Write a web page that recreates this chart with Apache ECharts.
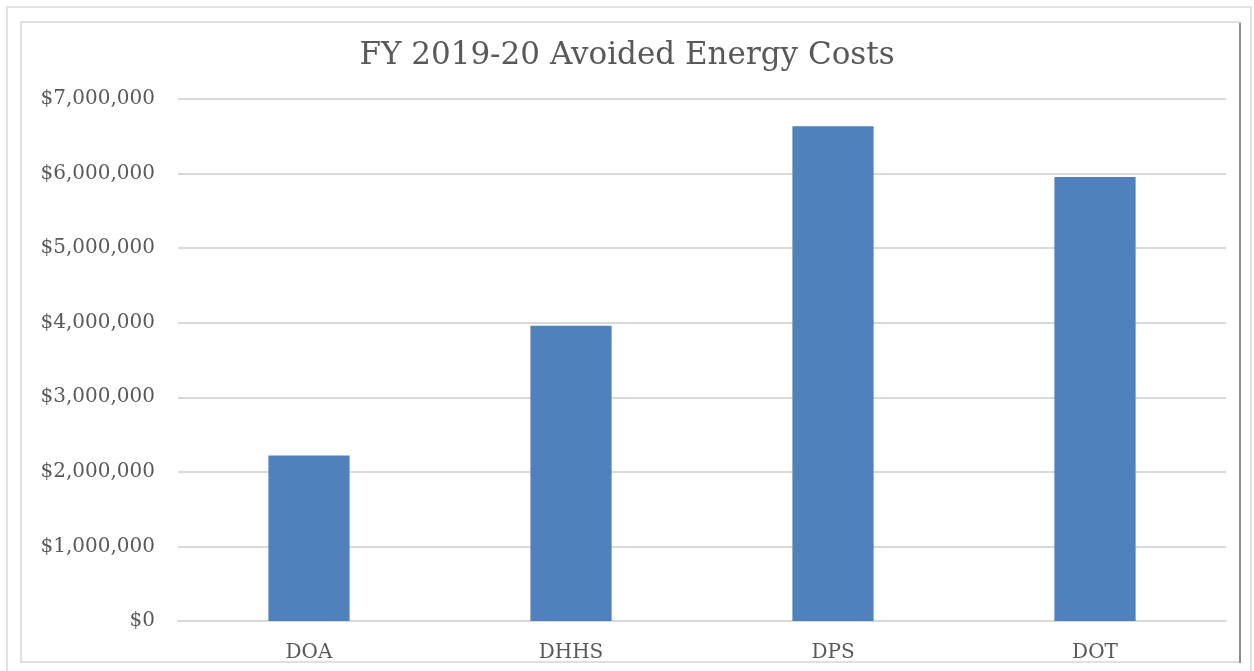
<!DOCTYPE html>
<html>
<head>
<meta charset="utf-8">
<script src="https://cdn.jsdelivr.net/npm/echarts@6/dist/echarts.min.js"></script>
<style>
html,body{margin:0;padding:0;background:#fff;}
#chart{width:1254px;height:671px;}
</style>
</head>
<body>
<div id="chart"></div>
<script>
const titleText = 'FY 2019-20 Avoided Energy Costs';
const categories = ['DOA', 'DHHS', 'DPS', 'DOT'];
const values = [2220000, 3960000, 6635000, 5955000];
const yMin = 0, yMax = 7000000, yStep = 1000000;

const FONT = '"DejaVu Serif", serif';
const chart = echarts.init(document.getElementById('chart'), null, {renderer: 'canvas'});
chart.setOption({
  backgroundColor: '#ffffff',
  animation: false,
  title: {
    text: titleText,
    left: 'center',
    top: 35,
    textStyle: {fontFamily: FONT, fontSize: 31, fontWeight: 'normal', color: '#595959'}
  },
  grid: {left: 178, right: 28, top: 99, bottom: 50, containLabel: false},
  xAxis: {
    type: 'category',
    data: categories,
    axisLine: {show: true, lineStyle: {color: '#d9d9d9', width: 2}},
    axisTick: {show: false},
    axisLabel: {fontFamily: FONT, fontSize: 20, color: '#595959', margin: 22}
  },
  yAxis: {
    type: 'value',
    min: yMin, max: yMax, interval: yStep,
    axisLine: {show: false},
    axisTick: {show: false},
    splitLine: {lineStyle: {color: '#d9d9d9', width: 2}},
    axisLabel: {
      fontFamily: FONT, fontSize: 20, color: '#595959', margin: 23,
      padding: [4, 0, 0, 0],
      formatter: v => '$' + v.toLocaleString('en-US')
    }
  },
  series: [{
    type: 'bar',
    data: values,
    barWidth: '31%',
    itemStyle: {color: '#4f81bd'}
  }],
  graphic: [
    {type: 'rect', shape: {x: 7, y: 7, width: 1244, height: 670}, style: {fill: 'none', stroke: '#e3e3e3', lineWidth: 2}, silent: true, z: -1},
    {type: 'rect', shape: {x: 21, y: 22, width: 1219, height: 640}, style: {fill: 'none', stroke: '#e0e0e0', lineWidth: 2}, silent: true, z: -1},
    {type: 'line', shape: {x1: 1240, y1: 23, x2: 1240, y2: 663}, style: {stroke: '#8c8c8c', lineWidth: 2}, silent: true}
  ]
});
</script>
</body>
</html>
